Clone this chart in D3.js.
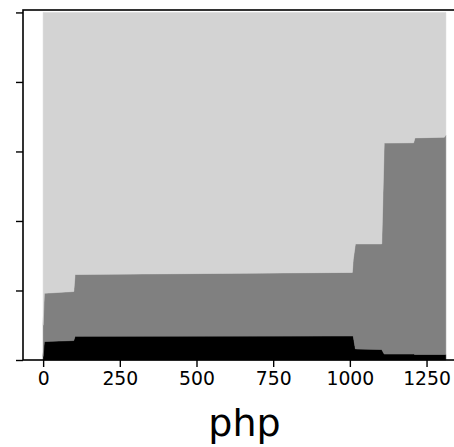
<!DOCTYPE html>
<html>
<head>
<meta charset="utf-8">
<script src="https://cdn.jsdelivr.net/npm/d3@7"></script>
<style>
  html, body { margin: 0; padding: 0; background: #fff; overflow: hidden; }
  svg { display: block; font-family: "DejaVu Sans", sans-serif; }
</style>
</head>
<body>
<svg id="chart" width="454" height="447"></svg>
<script>
// ---- data ----
const xValues   = [0,    4,     100,   104,   1008,  1011,  1018,  1104,  1112,  1208,  1212,  1308,  1313];
const blackVals = [0.01, 0.053, 0.056, 0.068, 0.069, 0.069, 0.032, 0.030, 0.017, 0.017, 0.016, 0.016, 0.016];
const grayVals  = [0.09, 0.139, 0.141, 0.178, 0.183, 0.220, 0.302, 0.304, 0.607, 0.608, 0.623, 0.625, 0.631];
const lightVals = xValues.map((_, i) => 1 - blackVals[i] - grayVals[i]);
const seriesKeys   = ["black", "gray", "light"];
const seriesColors = ["#000000", "#808080", "#d3d3d3"];
const xTicks = [0, 250, 500, 750, 1000, 1250];
const yTicks = [0, 0.2, 0.4, 0.6, 0.8, 1.0];
const xLabel = "php";

const table = xValues.map((x, i) => ({x, black: blackVals[i], gray: grayVals[i], light: lightVals[i]}));

const svg = d3.select("#chart");
const mLeft = 23, mRight = 466, mTop = 10, mBottom = 360;

const x = d3.scaleLinear().domain([-65.65, 1378.65]).range([mLeft, mRight]);
const y = d3.scaleLinear().domain([0, 1.007]).range([mBottom, mTop]);

const stack = d3.stack().keys(seriesKeys);
const layers = stack(table);

const area = d3.area()
  .x(d => x(d.data.x))
  .y0(d => y(d[0]))
  .y1(d => y(d[1]));

svg.append("g").selectAll("path")
  .data(layers)
  .join("path")
  .attr("d", area)
  .attr("fill", (d, i) => seriesColors[i])
  .attr("stroke", (d, i) => seriesColors[i])
  .attr("stroke-width", 0.5);

// axes
const xAxis = d3.axisBottom(x).tickValues(xTicks).tickSize(7).tickPadding(5).tickFormat(d3.format("d"));
const gx = svg.append("g").attr("transform", `translate(0,${mBottom})`).call(xAxis);
gx.select(".domain").remove();
gx.selectAll(".tick line").attr("stroke", "#000").attr("stroke-width", 1.4);
gx.selectAll(".tick text").attr("font-size", 18.8).attr("fill", "#000")
  .attr("font-family", "DejaVu Sans");

const yAxis = d3.axisLeft(y).tickValues(yTicks).tickSize(7).tickFormat("");
const gy = svg.append("g").attr("transform", `translate(${mLeft},0)`).call(yAxis);
gy.select(".domain").remove();
gy.selectAll(".tick line").attr("stroke", "#000").attr("stroke-width", 1.4);

// spines
svg.append("rect")
  .attr("x", mLeft).attr("y", mTop)
  .attr("width", mRight - mLeft).attr("height", mBottom - mTop)
  .attr("fill", "none").attr("stroke", "#000").attr("stroke-width", 1.6);

svg.append("text")
  .attr("x", (mLeft + mRight) / 2)
  .attr("y", 436)
  .attr("text-anchor", "middle")
  .attr("font-size", 38)
  .attr("font-family", "DejaVu Sans")
  .attr("fill", "#000")
  .text(xLabel);
</script>
</body>
</html>
